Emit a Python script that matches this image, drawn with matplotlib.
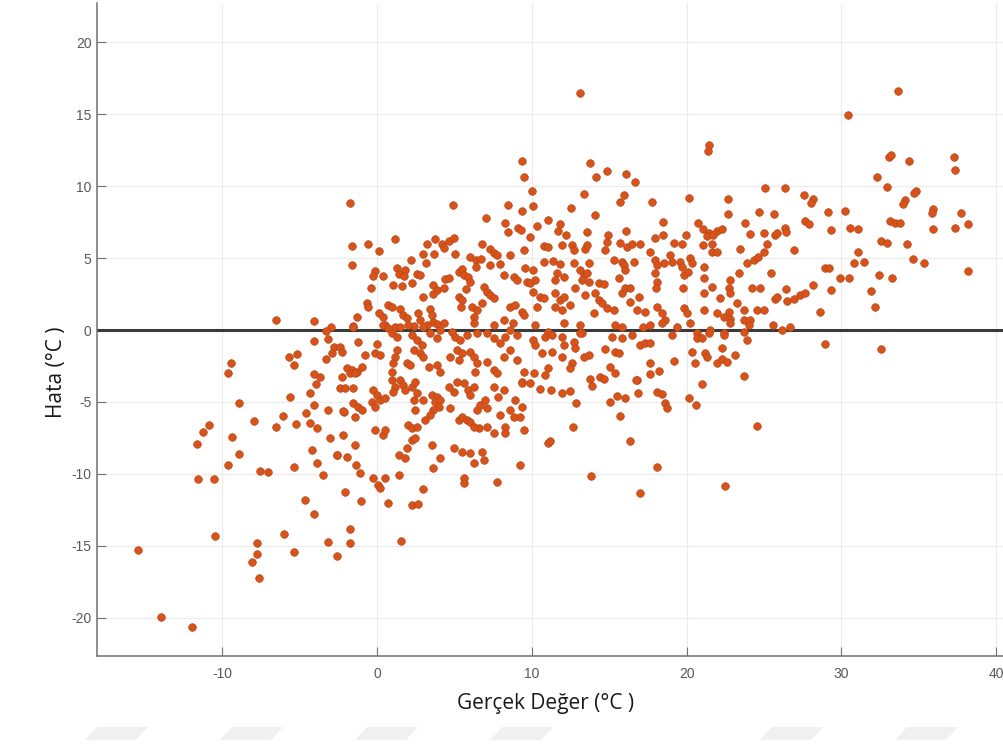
import matplotlib
matplotlib.use("Agg")
import matplotlib.pyplot as plt
from matplotlib.patches import Polygon

plt.rcParams["axes.unicode_minus"] = False

cold_pts = [
    (-6.55, 0.69), (-4.07, 0.65), (-4.07, -0.74), (-3.17, -0.63), (-2.97, 0.23),
    (-3.3, -0.05), (-2.8, -1.16), (-5.69, -1.9), (-5.17, -1.68), (-5.37, -2.43),
    (-3.3, -2.0), (-9.46, -2.27), (-9.65, -2.96), (-4.07, -3.06), (-3.68, -3.28),
    (-3.96, -3.75), (-5.64, -4.65), (-4.35, -4.4), (-4.07, -5.23), (-3.17, -5.56),
    (-8.94, -5.1), (-4.59, -5.77), (-6.08, -5.95), (-7.95, -6.32), (-6.55, -6.74),
    (-5.26, -6.55), (-4.37, -6.48), (-3.86, -6.78), (-10.86, -6.62), (-11.25, -7.1),
    (-11.66, -7.92), (-9.37, -7.45), (-3.06, -7.5), (-4.24, -8.36), (-2.59, -8.7),
    (-8.94, -8.59), (-3.86, -9.26), (-9.65, -9.38), (-7.58, -9.79), (-7.07, -9.88),
    (-5.37, -9.54), (-3.53, -10.07), (-11.55, -10.37), (-10.56, -10.32), (-4.65, -11.83),
    (-4.07, -12.76), (-10.47, -14.33), (-6.05, -14.17), (-3.15, -14.72), (-2.59, -15.69),
    (-7.76, -14.77), (-7.76, -15.53), (-8.06, -16.11), (-7.65, -17.22), (-5.35, -15.42),
    (-15.45, -15.3), (-13.94, -19.95), (-11.94, -20.63), (-2.93, -1.62),
]

mid_hi_pts = [
    (-1.75, 8.8), (-1.64, 5.81), (-1.64, 4.51), (-0.56, 5.97), (0.15, 5.51), (1.16, 6.32),
    (4.93, 8.66), (9.35, 11.76), (9.52, 10.6), (8.45, 8.66), (9.33, 8.26), (7.03, 7.76),
    (8.23, 7.41), (8.45, 6.78), (9.07, 7.06), (9.27, 6.94), (9.46, 5.56), (8.56, 5.19),
    (9.57, 4.28), (2.18, 4.86), (2.95, 5.28), (3.25, 5.97), (3.75, 6.3), (4.16, 5.97),
    (4.29, 5.67), (4.61, 6.2), (4.98, 6.37), (3.68, 5.28), (5.06, 5.3), (3.17, 4.68),
    (6.77, 5.95), (7.3, 5.6), (7.52, 5.33), (7.74, 5.19), (5.97, 5.05), (6.4, 4.86),
    (6.7, 4.91), (6.38, 4.4), (7.27, 4.51), (7.91, 4.58), (1.27, 4.28), (1.38, 3.89),
    (1.81, 4.17), (1.75, 3.75), (2.56, 3.89), (2.78, 3.82), (-0.13, 4.12), (-0.28, 3.77),
    (0.41, 3.77), (-0.41, 2.9), (1.05, 3.13), (1.6, 3.06), (2.24, 3.28), (2.95, 2.27),
    (3.64, 3.13), (3.86, 2.78), (3.6, 2.5), (4.4, 3.52), (4.61, 3.59), (4.35, 2.9),
    (5.26, 4.05), (5.48, 4.22), (5.64, 3.82), (5.9, 3.7), (6.01, 3.36), (5.75, 2.83),
    (6.92, 3.0), (7.09, 2.66), (7.3, 2.43), (7.52, 2.2), (8.17, 3.82), (8.82, 3.7),
    (9.03, 3.47), (9.68, 3.36), (-0.67, 1.9), (-0.56, 1.62), (0.15, 1.16), (0.41, 0.93),
    (0.73, 1.74), (0.95, 1.62), (1.49, 1.44), (1.7, 1.04), (1.96, 0.81), (2.67, 1.16),
    (2.78, 0.69), (3.43, 1.44), (3.54, 1.04), (3.64, 0.58), (4.29, 0.47), (5.26, 2.31),
    (5.48, 2.08), (5.43, 1.62), (6.12, 1.62), (6.44, 1.39), (6.27, 0.93), (6.77, 1.85),
    (8.6, 1.62), (8.92, 1.74), (9.35, 1.27), (9.46, 1.04), (-1.31, 0.93), (-1.57, 0.28),
    (8.17, 0.69), (8.77, 0.47), (6.23, 0.47), (7.52, 0.35), (0.52, 0.35), (1.16, 0.23),
    (2.35, 0.28), (3.21, 0.35), (3.86, 0.42),
]

mid_lo_pts = [
    (-1.53, 0.23), (-2.39, -1.16), (-2.28, -1.5), (-1.21, -0.81), (-0.02, -0.97),
    (-0.13, -1.62), (0.19, -1.74), (-0.78, -1.74), (0.41, 0.35), (0.73, 0.12), (0.95, -0.23),
    (1.27, -0.46), (1.49, 0.23), (2.02, 0.35), (2.24, -0.35), (2.57, -0.69), (2.89, -1.04),
    (2.35, -1.39), (2.99, 0.23), (3.43, -0.23), (3.86, -0.58), (4.07, 0.0), (4.83, -0.12),
    (5.04, -0.46), (5.37, -0.69), (5.8, -0.35), (6.44, -0.23), (7.09, -0.23), (7.52, -0.58),
    (7.95, -0.92), (8.27, -0.46), (8.6, 0.0), (9.03, -0.35), (1.27, -1.39), (1.16, -1.85),
    (1.05, -2.31), (0.95, -2.9), (1.92, -2.31), (2.13, -2.43), (2.78, -1.62), (2.99, -1.85),
    (3.32, -2.55), (3.86, -2.43), (4.07, -2.9), (4.72, -1.85), (5.15, -1.39), (5.48, -1.62),
    (5.26, -2.08), (6.01, -1.5), (6.23, -1.85), (6.44, -2.31), (6.33, -2.9), (7.09, -2.2),
    (7.52, -2.78), (7.74, -3.0), (8.17, -1.85), (8.6, -1.39), (9.03, -2.08), (9.46, -2.9),
    (9.35, -3.59), (-1.96, -2.66), (-1.64, -2.78), (-1.31, -2.9), (-0.99, -2.55),
    (-1.75, -2.99), (-1.42, -2.99), (-2.28, -3.24), (-2.39, -4.05), (-2.07, -4.05),
    (-1.53, -4.05), (-0.24, -4.17), (-0.02, -4.51), (-0.34, -4.98), (-0.13, -5.33),
    (0.19, -4.86), (0.52, -4.74), (-1.53, -5.09), (-1.21, -5.33), (-0.99, -5.56),
    (-2.17, -5.67), (0.95, -3.47), (1.16, -3.94), (1.05, -4.28), (1.49, -3.47), (1.7, -3.82),
    (1.81, -4.17), (2.24, -3.94), (2.46, -3.59), (2.57, -4.4), (2.35, -4.86), (2.99, -4.86),
    (3.54, -4.51), (3.86, -4.63), (3.75, -4.98), (4.07, -4.86), (3.97, -5.33), (3.64, -5.56),
    (3.43, -5.9), (2.46, -5.56), (2.02, -6.6), (2.24, -6.83), (2.57, -6.71), (3.1, -6.25),
    (4.61, -3.94), (4.94, -4.28), (5.15, -3.59), (5.58, -3.7), (5.9, -4.17), (6.01, -4.51),
    (6.23, -3.94), (4.72, -5.44), (5.26, -6.25), (5.48, -6.02), (5.8, -6.25), (6.01, -6.37),
    (6.44, -5.56), (6.66, -5.21), (7.09, -5.44), (6.98, -4.86), (6.55, -6.83), (6.23, -6.71),
    (7.09, -6.71), (7.52, -7.17), (8.27, -6.71), (8.27, -7.17), (7.95, -5.9), (8.6, -5.56),
    (8.82, -6.02), (9.25, -6.02), (8.92, -4.86), (9.35, -5.33), (9.46, -6.94), (7.52, -3.94),
    (7.84, -4.63), (8.17, -4.17), (9.35, -3.7), (-2.22, -7.29), (-1.46, -7.99),
    (-2.57, -8.68), (-1.96, -8.8), (-1.36, -9.38), (-1.1, -9.95), (-0.13, -6.94),
    (0.41, -7.29), (0.52, -6.94), (-0.24, -10.3), (0.08, -10.76), (0.19, -11.0),
    (0.52, -10.3), (1.38, -10.07), (1.38, -8.68), (1.92, -8.22), (1.81, -8.91), (2.24, -7.64),
    (2.46, -7.52), (3.54, -7.99), (4.07, -8.91), (3.64, -9.6), (4.94, -8.22), (5.48, -8.45),
    (6.01, -8.56), (6.23, -9.26), (6.77, -8.45), (6.88, -9.03), (5.58, -10.3), (5.58, -10.65),
    (7.74, -10.53), (9.25, -9.38), (-2.07, -11.23), (-1.05, -11.85), (-1.75, -13.84),
    (-1.75, -14.77), (0.67, -12.04), (2.24, -12.15), (2.67, -12.1), (2.95, -11.06),
    (1.53, -14.63), (-2.22, -5.6), (-1.42, -6.02),
]

warm_hi_pts = [
    (13.12, 16.48), (21.42, 12.85), (21.35, 12.43), (13.77, 11.63), (14.85, 11.06),
    (14.16, 10.6), (16.05, 10.81), (16.66, 10.3), (10.0, 9.67), (10.06, 8.61), (13.34, 9.44),
    (12.54, 8.47), (14.05, 7.96), (15.97, 9.38), (15.66, 8.87), (17.76, 8.86), (20.15, 9.17),
    (22.67, 9.12), (22.67, 8.03), (25.04, 9.84), (24.65, 8.17), (11.07, 7.64), (10.32, 7.22),
    (9.89, 6.48), (11.83, 7.36), (11.68, 6.9), (12.22, 6.58), (13.56, 6.78), (14.89, 6.58),
    (14.85, 6.13), (16.05, 6.85), (18.44, 7.48), (18.44, 6.58), (19.96, 6.6), (20.73, 7.45),
    (21.03, 7.01), (21.42, 6.76), (21.96, 6.85), (22.28, 7.02), (21.31, 6.51), (21.7, 6.6),
    (23.75, 7.41), (24.11, 6.67), (24.97, 6.72), (10.75, 5.83), (11.07, 5.74), (11.94, 5.9),
    (12.58, 5.9), (12.69, 5.56), (13.45, 5.6), (13.56, 5.9), (14.74, 5.56), (15.71, 6.02),
    (16.14, 5.78), (16.46, 5.97), (16.96, 5.97), (17.65, 5.44), (17.97, 6.37), (19.16, 6.06),
    (19.7, 5.97), (21.05, 5.9), (21.64, 5.97), (21.64, 5.44), (21.96, 5.39), (23.43, 5.65),
    (25.19, 5.95), (24.97, 5.44), (10.75, 4.74), (11.36, 4.79), (11.83, 4.56), (12.69, 4.63),
    (13.66, 4.67), (15.28, 4.86), (15.82, 4.74), (16.57, 4.74), (17.97, 4.86), (18.51, 4.67),
    (19.59, 4.74), (20.19, 5.02), (20.35, 4.63), (21.1, 4.4), (23.9, 4.67), (24.33, 4.86),
    (24.59, 5.09), (23.36, 3.98), (22.82, 3.47), (22.71, 2.9), (10.1, 4.17), (10.21, 3.47),
    (9.89, 3.24), (11.62, 3.94), (12.05, 3.7), (11.51, 3.47), (13.12, 4.17), (13.34, 3.82),
    (13.56, 3.94), (13.23, 3.47), (13.66, 3.35), (14.31, 3.24), (14.63, 3.19), (15.6, 3.59),
    (15.92, 4.51), (16.03, 4.17), (18.08, 4.51), (17.97, 3.94), (18.08, 3.35), (18.04, 2.9),
    (18.94, 5.21), (19.05, 4.74), (19.7, 4.4), (19.8, 3.82), (20.06, 4.05), (19.77, 2.9),
    (21.1, 3.59), (21.14, 2.55), (21.64, 2.97), (22.17, 2.2), (22.82, 2.55), (23.25, 1.85),
    (23.68, 1.39), (24.22, 2.9), (24.76, 2.9), (24.54, 1.39), (24.97, 1.39), (10.1, 2.66),
    (10.54, 2.31), (10.32, 1.62), (10.75, 2.2), (11.51, 2.55), (11.83, 2.08), (12.05, 2.31),
    (11.51, 1.62), (11.94, 1.39), (12.48, 1.74), (12.8, 2.9), (13.45, 2.43), (14.09, 2.55),
    (14.31, 2.08), (14.52, 1.85), (13.98, 1.16), (14.85, 1.5), (15.28, 1.39), (15.82, 2.55),
    (16.03, 2.9), (16.36, 2.9), (16.36, 1.97), (16.9, 2.31), (16.79, 1.39), (17.33, 1.27),
    (18.08, 1.62), (18.4, 1.16), (18.62, 0.69), (19.8, 1.5), (20.02, 1.16), (21.1, 1.39),
    (21.96, 1.16), (22.39, 0.92), (22.71, 1.27), (22.82, 0.74), (23.68, 0.69), (24.11, 0.69),
]

warm_lo_pts = [
    (10.21, 0.35), (11.07, -0.12), (12.05, 0.47), (13.12, 0.35), (13.23, -0.23), (15.38, 0.35),
    (15.82, 0.23), (17.2, 0.23), (17.65, 0.35), (18.4, 0.47), (19.37, 0.23), (20.23, 0.47),
    (20.67, -0.23), (21.53, 0.0), (22.39, -0.23), (22.82, 0.47), (24.0, 0.35), (23.68, -0.12),
    (10.1, -0.69), (10.21, -1.04), (10.86, -0.46), (11.29, -0.35), (11.94, -0.46),
    (12.05, -1.04), (12.69, -0.81), (12.8, -1.27), (13.12, -0.23), (15.17, -0.46),
    (15.82, -0.58), (16.46, -0.35), (17.0, -1.04), (17.33, -0.92), (17.65, -0.92),
    (19.05, -0.35), (20.67, -0.58), (20.99, -0.58), (22.39, -0.35), (22.28, -1.27),
    (21.42, -0.23), (23.9, -0.69), (10.65, -1.62), (11.29, -1.5), (11.94, -1.85),
    (12.58, -2.31), (12.48, -2.66), (13.34, -1.85), (13.66, -1.74), (14.74, -1.34),
    (15.38, -1.5), (15.6, -1.62), (15.06, -2.55), (15.38, -3.0), (17.65, -2.31), (18.19, -2.83),
    (17.65, -3.06), (16.79, -3.47), (19.16, -2.13), (20.35, -1.5), (21.2, -1.62), (21.31, -1.9),
    (20.56, -2.31), (21.96, -2.31), (22.28, -2.03), (22.6, -2.2), (23.14, -1.74), (23.68, -3.19),
    (20.99, -3.75), (10.15, -3.0), (10.86, -3.13), (11.07, -2.66), (9.89, -3.7), (10.54, -4.12),
    (11.23, -4.17), (11.94, -4.4), (12.43, -4.22), (12.87, -5.09), (13.77, -3.4), (13.88, -3.86),
    (14.42, -3.29), (14.63, -3.4), (15.06, -5.02), (15.49, -4.55), (16.03, -4.7), (16.74, -3.47),
    (16.83, -4.4), (18.08, -4.28), (18.4, -4.44), (18.62, -5.09), (18.73, -5.44), (20.13, -4.74),
    (20.62, -5.21), (15.66, -5.95), (12.65, -6.71), (11.07, -7.87), (11.18, -7.69),
    (16.36, -7.71), (18.1, -9.49), (13.83, -10.12), (16.96, -11.34), (22.46, -10.81),
    (24.54, -6.67),
]

hot_pts = [
    (33.66, 16.62), (30.45, 14.95), (33.05, 12.03), (33.23, 12.15), (34.37, 11.74),
    (37.24, 12.03), (37.36, 11.11), (32.32, 10.65), (32.92, 9.91), (26.33, 9.86), (27.56, 9.35),
    (28.14, 9.12), (28.03, 8.8), (34.8, 9.65), (34.67, 9.49), (34.13, 9.03), (33.98, 8.75),
    (25.64, 8.06), (29.15, 8.17), (30.25, 8.28), (35.89, 8.4), (35.86, 8.1), (37.75, 8.1),
    (38.16, 7.38), (27.66, 7.54), (27.88, 7.36), (33.16, 7.54), (33.48, 7.41), (33.76, 7.41),
    (25.73, 6.6), (25.84, 6.71), (26.37, 7.1), (26.44, 6.83), (29.35, 6.94), (30.58, 7.06),
    (31.05, 7.01), (35.89, 7.01), (37.36, 7.06), (32.56, 6.2), (32.95, 6.06), (34.24, 5.95),
    (26.91, 5.56), (31.05, 5.44), (30.79, 4.63), (31.44, 4.74), (34.63, 4.91), (35.32, 4.63),
    (38.16, 4.12), (28.92, 4.28), (29.18, 4.28), (25.45, 3.98), (29.93, 3.59), (30.47, 3.59),
    (32.45, 3.84), (33.25, 3.63), (26.44, 2.83), (28.14, 3.1), (29.35, 2.76), (25.73, 2.13),
    (25.84, 2.31), (26.48, 2.03), (26.91, 2.13), (27.34, 2.43), (27.67, 2.55), (31.93, 2.71),
    (32.15, 1.58), (28.64, 1.23), (25.56, 0.35), (26.16, 0.0), (26.65, 0.23), (28.96, -0.97),
    (32.56, -1.34),
]

all_pts = cold_pts + mid_hi_pts + mid_lo_pts + warm_hi_pts + warm_lo_pts + hot_pts
xs = [p[0] for p in all_pts]
ys = [p[1] for p in all_pts]

x_ticks = [-10, 0, 10, 20, 30, 40]
y_ticks = [-20, -15, -10, -5, 0, 5, 10, 15, 20]

W, H = 1004, 749
fig = plt.figure(figsize=(W / 100, H / 100), dpi=100)
ax = fig.add_axes([97 / W, 93 / H, 907 / W, 653 / H])

ax.set_xlim(-18.1, 40.5)
ax.set_ylim(-22.64, 22.71)
ax.set_xticks(x_ticks)
ax.set_yticks(y_ticks)
ax.grid(True, color="#ebebeb", lw=0.8)
ax.set_axisbelow(True)

ax.axhline(0, color="#3a3a3a", lw=2.2, zorder=2)
ax.scatter(xs, ys, s=30, c="#D95319", edgecolors="#B5461B", linewidths=0.5, zorder=3)

for side in ["top", "right"]:
    ax.spines[side].set_visible(False)
for side in ["left", "bottom"]:
    ax.spines[side].set_color("#707070")
    ax.spines[side].set_linewidth(1.1)

ax.tick_params(direction="in", length=6.5, width=0.8, color="#707070",
               labelcolor="#595959", labelsize=10)
ax.tick_params(axis="x", pad=8)
ax.tick_params(axis="y", pad=4)
for lab in ax.get_xticklabels() + ax.get_yticklabels():
    lab.set_fontfamily("Liberation Sans")

fig.text(546 / W, 1 - 703 / H, "Gerçek Değer (°C )", ha="center", va="center",
         fontsize=15, family="Open Sans", color="#1a1a1a")
fig.text(57 / W, 1 - 372 / H, "Hata (°C )", ha="center", va="center",
         rotation=90, fontsize=15, family="Open Sans", color="#1a1a1a")

# faint watermark shapes along the bottom edge
for left in [97, 232, 367, 502, 772, 907]:
    corners = [(left, 727), (left + 51, 727), (left + 39, 740), (left - 12, 740)]
    fig.patches.append(Polygon([(cx / W, 1 - cy / H) for cx, cy in corners],
                               closed=True, transform=fig.transFigure,
                               facecolor="#f0f0f0", edgecolor="none"))

fig.savefig("out.png", dpi=100)
